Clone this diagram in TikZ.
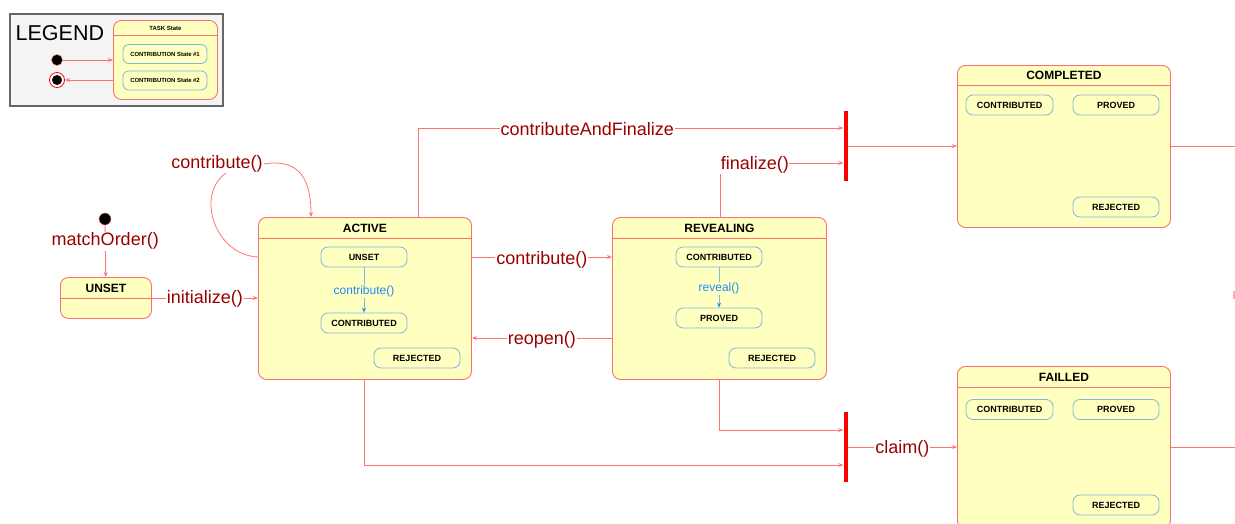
\documentclass[tikz,border=0pt]{standalone}
\usepackage{fontspec}
\setmainfont{Liberation Sans}
\usetikzlibrary{arrows.meta,calc}

\definecolor{boxfill}{RGB}{255,255,192}
\definecolor{boxline}{RGB}{255,110,110}
\definecolor{wire}{RGB}{255,115,115}
\definecolor{lbltext}{RGB}{155,0,0}
\definecolor{subline}{RGB}{125,182,222}
\definecolor{subarrowc}{RGB}{40,140,240}
\definecolor{subtext}{RGB}{30,136,255}
\definecolor{legfill}{RGB}{244,244,244}
\definecolor{legline}{RGB}{102,102,102}

\tikzset{
  statebox/.style={draw=boxline, fill=boxfill, rounded corners=8pt, line width=0.9pt,
    anchor=north west, inner sep=0pt},
  boxtitle/.style={font=\bfseries\fontsize{12}{12}\selectfont, text=black, inner sep=0pt},
  substate/.style={draw=subline, fill=boxfill, rounded corners=7pt, line width=0.8pt,
    minimum width=86pt, minimum height=20pt, inner sep=0pt,
    font=\bfseries\fontsize{9}{9}\selectfont},
  wirearrow/.style={draw=wire, line width=0.8pt, -{Stealth[length=5pt,width=4pt]}},
  wireline/.style={draw=wire, line width=0.8pt},
  headline/.style={draw=boxline, line width=0.8pt},
  lbl/.style={text=lbltext, font=\fontsize{18}{18}\selectfont, fill=white, inner sep=1pt, yshift=-2pt},
  sublbl/.style={text=subtext, font=\fontsize{12}{12}\selectfont, fill=boxfill, inner sep=1pt},
  subarrow/.style={draw=subline, line width=0.8pt, -{Stealth[length=5pt,width=4pt,color=subarrowc]}},
  forkbar/.style={fill=red, draw=none, inner sep=0pt, minimum width=4pt, minimum height=70pt},
}

\begin{document}
\begin{tikzpicture}[x=1pt, y=-1pt]
\useasboundingbox (0,0) rectangle (1235,523);

% ---------- legend ----------
\node[draw=legline, fill=legfill, line width=1.6pt, anchor=north west, inner sep=0pt,
      minimum width=213pt, minimum height=92pt] (legend) at (9,13) {};
\node[anchor=west, font=\fontsize{21.5}{21.5}\selectfont, inner sep=0pt] (legendtitle) at (15.5,33) {LEGEND};
\node[statebox, minimum width=104pt, minimum height=79pt] (taskbox) at (113,20) {};
\draw[headline] ([yshift=-15pt]taskbox.north west) -- ([yshift=-15pt]taskbox.north east);
\node[boxtitle, font=\bfseries\fontsize{6}{6}\selectfont] (tasktitle) at ([yshift=-8pt]taskbox.north) {TASK State};
\node[substate, minimum width=84pt, minimum height=19pt, rounded corners=6pt,
      font=\bfseries\fontsize{5.9}{6}\selectfont] (cs1) at (165,54) {CONTRIBUTION State \#1};
\node[substate, minimum width=84pt, minimum height=19pt, rounded corners=6pt,
      font=\bfseries\fontsize{5.9}{6}\selectfont] (cs2) at (165,80.5) {CONTRIBUTION State \#2};
\node[circle, fill=black, draw=boxline, line width=0.4pt, minimum size=11pt, inner sep=0pt] (legstart) at (57,60) {};
\node[circle, fill=white, draw=red, line width=0.8pt, minimum size=15pt, inner sep=0pt] (legend_end) at (57,80) {};
\node[circle, fill=black, minimum size=10pt, inner sep=0pt] (legend_endcore) at (57,80) {};
\draw[wirearrow] (legstart) -- (legstart -| taskbox.west);
\draw[wirearrow] (legend_end -| taskbox.west) -- (legend_end);

% ---------- initial state ----------
\node[circle, fill=black, draw=boxline, line width=0.4pt, minimum size=12pt, inner sep=0pt] (init) at (105,219) {};

% ---------- UNSET ----------
\node[statebox, minimum width=91pt, minimum height=41pt] (unset) at (60,277) {};
\draw[headline] ([yshift=-21pt]unset.north west) -- ([yshift=-21pt]unset.north east);
\node[boxtitle] (unsettitle) at ([yshift=-11pt]unset.north) {UNSET};

% ---------- ACTIVE ----------
\node[statebox, minimum width=213pt, minimum height=162pt] (active) at (258,217) {};
\draw[headline] ([yshift=-21pt]active.north west) -- ([yshift=-21pt]active.north east);
\node[boxtitle] (activetitle) at ([yshift=-11pt]active.north) {ACTIVE};
\node[substate] (a_unset) at (364,257) {UNSET};
\node[substate] (a_contr) at (364,323) {CONTRIBUTED};
\node[substate] (a_rej) at (417,358) {REJECTED};
\draw[subarrow] (a_unset) -- node[sublbl, yshift=-1pt]{contribute()} (a_contr);

% ---------- REVEALING ----------
\node[statebox, minimum width=214pt, minimum height=162pt] (reveal) at (612,217) {};
\draw[headline] ([yshift=-21pt]reveal.north west) -- ([yshift=-21pt]reveal.north east);
\node[boxtitle] (revealtitle) at ([yshift=-11pt]reveal.north) {REVEALING};
\node[substate] (r_contr) at (719,257) {CONTRIBUTED};
\node[substate] (r_proved) at (719,318) {PROVED};
\node[substate] (r_rej) at (772,358) {REJECTED};
\draw[subarrow] (r_contr) -- node[sublbl, yshift=-1pt]{reveal()} (r_proved);

% ---------- COMPLETED ----------
\node[statebox, minimum width=213pt, minimum height=162pt] (completed) at (957,65) {};
\draw[headline] ([yshift=-20pt]completed.north west) -- ([yshift=-20pt]completed.north east);
\node[boxtitle] (completedtitle) at ([yshift=-10pt]completed.north) {COMPLETED};
\node[substate, minimum width=87pt] (c_contr) at (1009.5,105) {CONTRIBUTED};
\node[substate] (c_proved) at (1116,105) {PROVED};
\node[substate] (c_rej) at (1116,207) {REJECTED};

% ---------- FAILLED ----------
\node[statebox, minimum width=213pt, minimum height=162pt] (failled) at (957,366) {};
\draw[headline] ([yshift=-21pt]failled.north west) -- ([yshift=-21pt]failled.north east);
\node[boxtitle] (failledtitle) at ([yshift=-11pt]failled.north) {FAILLED};
\node[substate, minimum width=87pt] (f_contr) at (1009.5,409.5) {CONTRIBUTED};
\node[substate] (f_proved) at (1116,409.5) {PROVED};
\node[substate] (f_rej) at (1116,505) {REJECTED};

% ---------- fork bars ----------
\node[forkbar] (bar1) at (845.5,146) {};
\node[forkbar] (bar2) at (845.5,447) {};

% ---------- ports ----------
\coordinate (loopout) at (258,257);
\coordinate (loopend) at (226,173);
\coordinate (loopin) at (311,217);
\coordinate (cafstart) at (418,217);
\coordinate (cafcorner) at (418,128);
\coordinate (finstart) at (720,217);
\coordinate (fincorner) at (720,163);
\coordinate (actdown) at (364,379);
\coordinate (actcorner) at (364,465);
\coordinate (revdown) at (719,379);
\coordinate (revcorner) at (719,430);
\coordinate (compout) at (1235,146);
\coordinate (failout) at (1235,447);

% ---------- transitions ----------
\draw[wirearrow] (init) -- node[lbl, pos=0.27]{matchOrder()} (unset);
\draw[wirearrow] (unset.east |- 0,298) -- node[lbl, yshift=1pt]{initialize()} (active.west |- 0,298);

% self loop on ACTIVE
\node[lbl] (looplbl) at (217,162) {contribute()};
\draw[wireline] (loopout) .. controls (215,255) and (195,195) .. (loopend);
\draw[wirearrow] (looplbl.east) .. controls (300,158) and (311,180) .. (loopin);

\draw[wireline] (cafstart) -- (cafcorner);
\draw[wirearrow] (cafcorner) -- node[lbl, pos=0.398, yshift=1pt]{contributeAndFinalize} (bar1.west |- cafcorner);

\draw[wireline] (finstart) -- (fincorner);
\draw[wirearrow] (fincorner) -- node[lbl, pos=0, anchor=west, inner sep=0.5pt]{finalize()} (bar1.west |- fincorner);

\draw[wirearrow] (bar1.east) -- (completed.west |- bar1.east);

\draw[wirearrow] (active.east |- 0,257) -- node[lbl, yshift=-1pt]{contribute()} (reveal.west |- 0,257);
\draw[wirearrow] (reveal.west |- 0,338) -- node[lbl]{reopen()} (active.east |- 0,338);

\draw[wireline] (actdown) -- (actcorner);
\draw[wirearrow] (actcorner) -- (bar2.west |- actcorner);
\draw[wireline] (revdown) -- (revcorner);
\draw[wirearrow] (revcorner) -- (bar2.west |- revcorner);

\draw[wirearrow] (bar2.east) -- node[lbl]{claim()} (failled.west |- bar2.east);

\draw[wireline] (completed.east |- compout) -- (compout);
\draw[wireline] (failled.east |- failout) -- (failout);
\draw[draw=wire!60, line width=1.6pt] (1234.2,291) -- (1234.2,299);
\end{tikzpicture}
\end{document}
